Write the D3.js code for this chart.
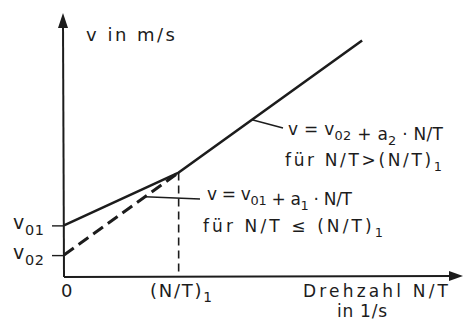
<!DOCTYPE html>
<html>
<head>
<meta charset="utf-8">
<script src="https://cdn.jsdelivr.net/npm/d3@7"></script>
<style>
  html, body { margin: 0; padding: 0; background: #fff; }
  svg { display: block; }
  text { font-family: "DejaVu Sans", sans-serif; fill: #1c1c1c; }
</style>
</head>
<body>
<svg id="chart" width="471" height="321"></svg>
<script>
// Speed v over rotational speed N/T (schematic, arbitrary units)
const ntBreak = 1;                 // (N/T)_1
const v01 = 2.3;
const v02 = 0.95;
const ntSolid = [0, 1, 2.6];       // N/T values of the two solid segments
const vSolid  = [2.3, 4.7, 10.7];  // v = v01 + a1·N/T, then v = v02 + a2·N/T
const ntDashed = [0, 1];           // extension of the second law back to N/T = 0
const vDashed  = [0.95, 4.7];
const xTickLabels = ["0", "(N/T)1"];
const xTickValues = [0, ntBreak];
const yTickLabels = ["v01", "v02"];
const yTickValues = [v01, v02];
const xAxisEnd = 3.48;
const yAxisEnd = 11.95;

const svg = d3.select("#chart");
const x = d3.scaleLinear().domain([0, xAxisEnd]).range([64, 463]);
const y = d3.scaleLinear().domain([0, yAxisEnd]).range([276, 13]);
const ink = "#1c1c1c";
const fs = 17;

// text with subscripts; each part is [text, isSubscript, backToBaseline]
function richText(g, parts, xPos, yPos, size, width) {
  const t = g.append("text").attr("x", xPos).attr("y", yPos)
    .attr("font-size", size);
  parts.forEach(p => {
    const s = t.append("tspan").text(p[0]);
    if (p[1]) s.attr("font-size", size * 0.76).attr("dy", size * 0.3);
    else if (p[2]) s.attr("dy", -size * 0.3);
  });
  if (width) {
    const n = parts.reduce((a, p) => a + p[0].length, 0);
    const w = t.node().getComputedTextLength();
    t.attr("letter-spacing", (width - w) / Math.max(1, n - 1));
  }
  return t;
}
function subParts(label) {
  const m = label.match(/^(.*?)(\d+)$/);
  return m ? [[m[1]], [m[2], true]] : [[label]];
}

// axes drawn by d3, domain paths replaced by arrowed lines
const xAxis = d3.axisBottom(x).tickValues(xTickValues).tickSize(0).tickFormat(() => "");
const yAxis = d3.axisLeft(y).tickValues(yTickValues).tickSize(12).tickFormat(() => "");
const gx = svg.append("g").attr("transform", `translate(0,${y(0)})`).call(xAxis);
const gy = svg.append("g").attr("transform", `translate(${x(0)},0)`).call(yAxis);
gx.select(".domain").remove();
gy.select(".domain").remove();
gy.selectAll(".tick line").attr("stroke", ink).attr("stroke-width", 1.4);

svg.append("line").attr("x1", x(0)).attr("y1", y(0) + 1).attr("x2", x(xAxisEnd) - 10).attr("y2", y(0))
  .attr("stroke", ink).attr("stroke-width", 2);
svg.append("path")
  .attr("d", `M${x(xAxisEnd)},${y(0)} l-14,-5 l0,10 z`).attr("fill", ink);
svg.append("line").attr("x1", x(0)).attr("y1", y(0) + 1).attr("x2", x(0) - 1).attr("y2", y(yAxisEnd) + 10)
  .attr("stroke", ink).attr("stroke-width", 2);
svg.append("path")
  .attr("d", `M${x(0) - 1},${y(yAxisEnd)} l-5,15 l10,0 z`).attr("fill", ink);

// x tick labels
const xLabelPos = [[61, 297, 0], [150, 297, 62]];
xTickLabels.forEach((lab, i) => {
  const parts = lab === "0" ? [["0"]] : [["(N/T)"], ["1", true]];
  richText(svg, parts, xLabelPos[i][0], xLabelPos[i][1], fs + 1, xLabelPos[i][2]);
});
// y tick labels
yTickLabels.forEach((lab, i) => {
  richText(svg, subParts(lab), 13, y(yTickValues[i]) + 4, fs + 2, 31);
});

// axis titles
richText(svg, [["v in m/s"]], 86, 41, fs + 1, 89);
richText(svg, [["Drehzahl N/T"]], 303, 297, fs, 145);
richText(svg, [["in 1/s"]], 337, 317, fs, 50);

// vertical dashed marker at (N/T)_1
svg.append("line")
  .attr("x1", x(ntBreak)).attr("x2", x(ntBreak))
  .attr("y1", y(vSolid[1])).attr("y2", y(0))
  .attr("stroke", ink).attr("stroke-width", 1.6).attr("stroke-dasharray", "8,5");

const line = d3.line().x(d => x(d[0])).y(d => y(d[1]));
// dashed extension
svg.append("path")
  .datum(d3.zip(ntDashed, vDashed))
  .attr("d", line).attr("fill", "none").attr("stroke", ink)
  .attr("stroke-width", 3).attr("stroke-dasharray", "12,6");
// solid characteristic
svg.append("path")
  .datum(d3.zip(ntSolid, vSolid))
  .attr("d", line).attr("fill", "none").attr("stroke", ink)
  .attr("stroke-width", 2.6).attr("stroke-linejoin", "round");

// leader lines to the formula labels
svg.append("line").attr("x1", x(1.64)).attr("y1", y(0.95 + 3.75 * 1.64)).attr("x2", 283).attr("y2", 128)
  .attr("stroke", ink).attr("stroke-width", 1.4);
svg.append("line").attr("x1", x(0.707)).attr("y1", y(3.6)).attr("x2", 200).attr("y2", 199)
  .attr("stroke", ink).attr("stroke-width", 1.4);

// formula labels
richText(svg, [["v = v"], ["02", true], [" + a"], ["2", true], [" · N/T", false, true]], 288, 135, fs, 155);
richText(svg, [["für N/T>(N/T)"], ["1", true]], 285, 166, fs, 157);
richText(svg, [["v = v"], ["01", true], [" + a"], ["1", true], [" · N/T", false, true]], 207, 200, fs, 145);
richText(svg, [["für N/T ≤ (N/T)"], ["1", true]], 203, 232, fs, 180);
</script>
</body>
</html>
